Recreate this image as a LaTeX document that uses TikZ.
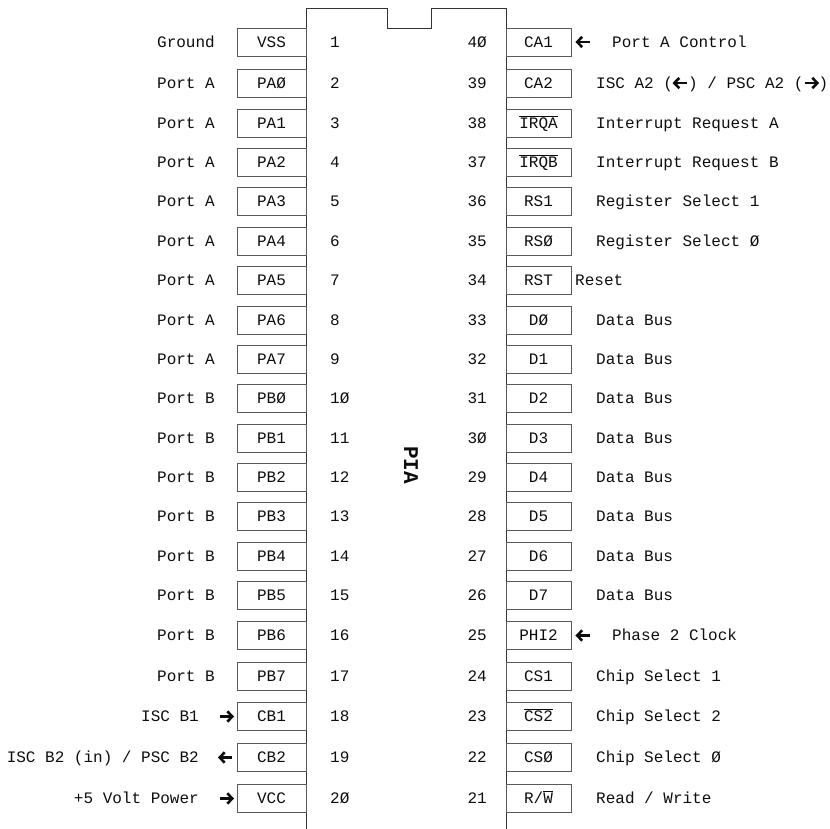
\documentclass[tikz,border=0pt]{standalone}
\usepackage{fontspec}
\setmonofont{Liberation Mono}
\usetikzlibrary{arrows.meta}
\definecolor{boxline}{gray}{0.35}
\definecolor{bodyline}{gray}{0.2}
\definecolor{txt}{gray}{0.05}
\newcommand\arrR{\tikz[baseline=-5.2pt]{\draw[line width=2.6pt,color=txt,line cap=butt] (0pt,0pt) -- (11pt,0pt); \draw[line width=2.6pt,color=txt,line join=miter,line cap=butt] (7.6pt,5.2pt) -- (12.6pt,0pt) -- (7.6pt,-5.2pt);}}
\newcommand\arrL{\tikz[baseline=-5.2pt]{\draw[line width=2.6pt,color=txt,line cap=butt] (1.6pt,0pt) -- (12.6pt,0pt); \draw[line width=2.6pt,color=txt,line join=miter,line cap=butt] (5pt,5.2pt) -- (0pt,0pt) -- (5pt,-5.2pt);}}
\newcommand\ovl[1]{\leavevmode\vbox{\hrule height 0.8pt\kern 1.6pt\hbox{#1}}}
\begin{document}
\begin{tikzpicture}[x=1pt,y=-1pt,
  every node/.style={font=\ttfamily\fontsize{16}{19}\selectfont, text=txt},
  lbox/.style={draw=boxline, line width=0.9pt, minimum width=69pt, minimum height=28pt, inner sep=0pt, text height=10.5pt, text depth=0pt},
  rbox/.style={draw=boxline, line width=0.9pt, minimum width=65pt, minimum height=28pt, inner sep=0pt, text height=10.5pt, text depth=0pt},
  pinnum/.style={inner sep=0pt},
  lab/.style={inner sep=0pt},
  glyph/.style={inner sep=0pt}]
\useasboundingbox (0,0) rectangle (830,829);
% chip body
\draw[bodyline, line width=1pt] (306,829) -- (306,9) -- (387,9) -- (387,29) -- (431,29) -- (431,9) -- (506,9) -- (506,829);
\node[font=\ttfamily\bfseries\fontsize{21}{24}\selectfont, rotate=-90, inner sep=0pt] (chip) at (411,465) {PIA};
% left side
\foreach \y/\nm/\nu/\lb [count=\i] in {
 42/VSS/1/Ground, 83/PAØ/2/Port A, 123.5/PA1/3/Port A, 162.5/PA2/4/Port A,
 201.5/PA3/5/Port A, 241/PA4/6/Port A, 280.5/PA5/7/Port A, 320/PA6/8/Port A,
 359/PA7/9/Port A, 398.5/PBØ/1Ø/Port B, 438/PB1/11/Port B, 477/PB2/12/Port B,
 516.5/PB3/13/Port B, 556/PB4/14/Port B, 595.5/PB5/15/Port B, 635.5/PB6/16/Port B,
 676/PB7/17/Port B, 716.5/CB1/18/{}, 757.5/CB2/19/{}, 798.5/VCC/2Ø/{}}{
  \node[lbox] (lb\i) at (271.5,\y) {\nm};
  \node[pinnum, anchor=base west] (ln\i) at (330,\y+5.25) {\nu};
  \node[lab, anchor=base east] (ll\i) at (215,\y+5.25) {\lb};
}
\node[lab, anchor=base east] (lx18) at (199,716.5+5.25) {ISC B1};
\node[glyph] (la18) at (226,716.5) {\arrR};
\node[lab, anchor=base east] (lx19) at (199,757.5+5.25) {ISC B2 (in) / PSC B2};
\node[glyph] (la19) at (226,757.5) {\arrL};
\node[lab, anchor=base east] (lx20) at (199,798.5+5.25) {+5 Volt Power};
\node[glyph] (la20) at (226,798.5) {\arrR};
% right side
\foreach \y/\nm/\nu/\lb [count=\i] in {
 42/CA1/4Ø/{}, 83/CA2/39/{ISC A2 (\arrL) / PSC A2 (\arrR)}, 123.5/\ovl{IRQA}/38/Interrupt Request A,
 162.5/\ovl{IRQB}/37/Interrupt Request B, 201.5/RS1/36/Register Select 1, 241/RSØ/35/Register Select Ø,
 280.5/RST/34/{}, 320/DØ/33/Data Bus, 359/D1/32/Data Bus, 398.5/D2/31/Data Bus,
 438/D3/3Ø/Data Bus, 477/D4/29/Data Bus, 516.5/D5/28/Data Bus, 556/D6/27/Data Bus,
 595.5/D7/26/Data Bus, 635.5/PHI2/25/{}, 676/CS1/24/Chip Select 1,
 716.5/\ovl{CS2}/23/Chip Select 2, 757.5/CSØ/22/Chip Select Ø, 798.5/{R/\ovl{W}}/21/{Read / Write}}{
  \node[rbox] (rb\i) at (538.5,\y) {\nm};
  \node[pinnum, anchor=base east] (rn\i) at (487,\y+5.25) {\nu};
  \node[lab, anchor=base west] (rl\i) at (596,\y+5.25) {\lb};
}
\node[glyph] (ra1) at (583.5,42) {\arrL};
\node[lab, anchor=base west] (rx1) at (612,42+5.25) {Port A Control};
\node[lab, anchor=base west] (rx7) at (575,280.5+5.25) {Reset};
\node[glyph] (ra16) at (583.5,635.5) {\arrL};
\node[lab, anchor=base west] (rx16) at (612,635.5+5.25) {Phase 2 Clock};
\end{tikzpicture}
\end{document}
